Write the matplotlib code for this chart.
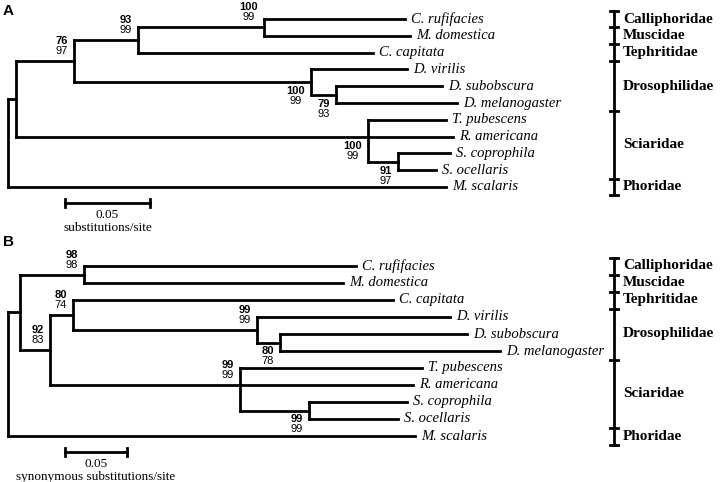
import matplotlib.pyplot as plt

taxa = ["C. rufifacies", "M. domestica", "C. capitata", "D. virilis",
        "D. subobscura", "D. melanogaster", "T. pubescens", "R. americana",
        "S. coprophila", "S. ocellaris", "M. scalaris"]

families = ["Calliphoridae", "Muscidae", "Tephritidae", "Drosophilidae",
            "Sciaridae", "Phoridae"]
family_sizes = [1, 1, 1, 3, 4, 1]

# panel A: all substitutions (depth from root, substitutions/site)
a_tip_depth = [0.2335, 0.2365, 0.2147, 0.2347, 0.2553, 0.2641,
               0.2576, 0.2618, 0.2600, 0.2518, 0.2576]
a_node_names = ["cm", "cmt", "upper", "dros", "dmel", "sci", "scop", "inner", "root"]
a_node_depth = [0.1506, 0.0765, 0.0388, 0.1782, 0.1929, 0.2118, 0.2294, 0.0047, 0.0]
a_node_children = [["C. rufifacies", "M. domestica"],
                   ["cm", "C. capitata"],
                   ["cmt", "dros"],
                   ["D. virilis", "dmel"],
                   ["D. subobscura", "D. melanogaster"],
                   ["T. pubescens", "R. americana", "scop"],
                   ["S. coprophila", "S. ocellaris"],
                   ["upper", "sci"],
                   ["inner", "M. scalaris"]]
a_boot_top = [100, 93, 76, 100, 79, 100, 91, None, None]
a_boot_bot = [99, 99, 97, 99, 93, 99, 97, None, None]
a_boot_side = ["above", "above", "above", "below", "below", "below", "below", None, None]

# panel B: synonymous substitutions
b_tip_depth = [0.2806, 0.2702, 0.3105, 0.3565, 0.3702, 0.3968,
               0.3339, 0.3266, 0.3218, 0.3145, 0.3282]
b_node_names = ["cm", "dmel", "dros", "cap", "scop", "sci", "cds", "top", "root"]
b_node_depth = [0.0613, 0.2194, 0.2008, 0.0524, 0.2427, 0.1871, 0.0339, 0.0097, 0.0]
b_node_children = [["C. rufifacies", "M. domestica"],
                   ["D. subobscura", "D. melanogaster"],
                   ["D. virilis", "dmel"],
                   ["C. capitata", "dros"],
                   ["S. coprophila", "S. ocellaris"],
                   ["T. pubescens", "R. americana", "scop"],
                   ["cap", "sci"],
                   ["cm", "cds"],
                   ["top", "M. scalaris"]]
b_boot_top = [98, 80, 99, 80, 99, 99, 92, None, None]
b_boot_bot = [98, 78, 99, 74, 99, 99, 83, None, None]
b_boot_side = ["above", "below", "above", "above", "below", "above", "above", None, None]

scale_len = 0.05

SERIF = "Liberation Serif"
SANS = "Liberation Sans"
LW = 2.0

fig = plt.figure(figsize=(7.2, 4.82), dpi=100)
ax = fig.add_axes([0, 0, 1, 1])
ax.set_xlim(0, 720)
ax.set_ylim(482, 0)
ax.axis("off")


def draw_panel(letter, tip_depth, node_names, node_depth, node_children,
               boot_top, boot_bot, boot_side, root_x, px_per_unit, y0, dy,
               scale_label, letter_y):
    xs, ys = {}, {}
    for i, name in enumerate(taxa):
        xs[name] = root_x + tip_depth[i] * px_per_unit
        ys[name] = y0 + i * dy
    for name, d in zip(node_names, node_depth):
        xs[name] = root_x + d * px_per_unit

    children = dict(zip(node_names, node_children))

    def node_y(name):
        if name in ys:
            return ys[name]
        cy = [node_y(c) for c in children[name]]
        ys[name] = cy[len(cy) // 2] if len(cy) % 2 else (cy[0] + cy[-1]) / 2
        return ys[name]

    node_y("root")

    kw = dict(color="black", lw=LW, solid_capstyle="projecting")
    for name in node_names:
        cy = [ys[c] for c in children[name]]
        ax.plot([xs[name], xs[name]], [min(cy), max(cy)], **kw)
        for c in children[name]:
            ax.plot([xs[name], xs[c]], [ys[c], ys[c]], **kw)

    for name in taxa:
        ax.text(xs[name] + 6, ys[name], name, family=SERIF, style="italic",
                fontsize=10.5, ha="left", va="center")

    for name, top, bot, side in zip(node_names, boot_top, boot_bot, boot_side):
        if top is None:
            continue
        nd = max(len(str(top)), len(str(bot)))
        cx = xs[name] - 6 - 3.2 * nd
        if side == "above":
            ty, by = ys[name] - 20, ys[name] - 10
        else:
            ty, by = ys[name] + 9, ys[name] + 19
        ax.text(cx, ty, str(top), family=SANS, fontweight="bold", fontsize=8,
                ha="center", va="center")
        ax.text(cx, by, str(bot), family=SANS, fontsize=8,
                ha="center", va="center")

    # family brackets
    bx = 614
    bounds = [-0.5]
    for s in family_sizes:
        bounds.append(bounds[-1] + s)
    by = [y0 + b * dy for b in bounds]
    ax.plot([bx, bx], [by[0], by[-1]], color="black", lw=LW)
    for y in by:
        ax.plot([bx - 4, bx + 4], [y, y], color="black", lw=LW)
    for fam, lo, hi in zip(families, by[:-1], by[1:]):
        ax.text(623, (lo + hi) / 2, fam, family=SERIF, fontweight="bold",
                fontsize=11, ha="left", va="center")

    # scale bar
    sx0 = 65
    sx1 = sx0 + scale_len * px_per_unit
    sy = ys["M. scalaris"] + 16
    ax.plot([sx0, sx1], [sy, sy], color="black", lw=LW)
    for x in (sx0, sx1):
        ax.plot([x, x], [sy - 4, sy + 4], color="black", lw=LW)
    cx = (sx0 + sx1) / 2
    ax.text(cx, sy + 12, f"{scale_len:.2f}", family=SERIF, fontsize=9.5,
            ha="center", va="center")
    ax.text(cx, sy + 25, scale_label, family=SERIF, fontsize=9.5,
            ha="center", va="center")

    ax.text(3, letter_y, letter, family=SANS, fontweight="bold", fontsize=11,
            ha="left", va="center")


draw_panel("A", a_tip_depth, a_node_names, a_node_depth, a_node_children,
           a_boot_top, a_boot_bot, a_boot_side, root_x=8, px_per_unit=1700,
           y0=19, dy=16.8, scale_label="substitutions/site", letter_y=11)
draw_panel("B", b_tip_depth, b_node_names, b_node_depth, b_node_children,
           b_boot_top, b_boot_bot, b_boot_side, root_x=8, px_per_unit=1240,
           y0=266, dy=17, scale_label="synonymous substitutions/site",
           letter_y=242)

fig.savefig("out.png", dpi=100)
